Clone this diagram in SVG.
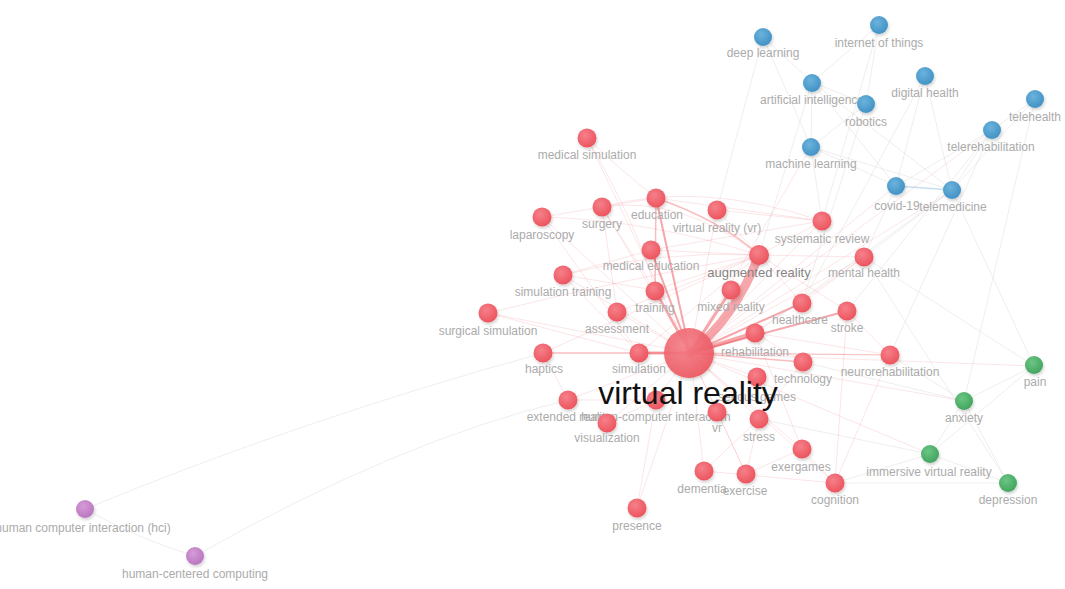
<svg xmlns="http://www.w3.org/2000/svg" width="1065" height="589" viewBox="0 0 1065 589">
<defs>
<radialGradient id="gr" cx="0.4" cy="0.35" r="0.7"><stop offset="0" stop-color="#f5808a"/><stop offset="1" stop-color="#ec525b"/></radialGradient>
<radialGradient id="gb" cx="0.4" cy="0.35" r="0.7"><stop offset="0" stop-color="#6bb3dc"/><stop offset="1" stop-color="#3f90c4"/></radialGradient>
<radialGradient id="gg" cx="0.4" cy="0.35" r="0.7"><stop offset="0" stop-color="#6cc583"/><stop offset="1" stop-color="#3fa35d"/></radialGradient>
<radialGradient id="gp" cx="0.4" cy="0.35" r="0.7"><stop offset="0" stop-color="#d69bd8"/><stop offset="1" stop-color="#b873bd"/></radialGradient>
<filter id="sh" x="-50%" y="-50%" width="200%" height="200%"><feDropShadow dx="1" dy="2" stdDeviation="1.5" flood-color="#000" flood-opacity="0.18"/></filter>
</defs>
<style>
.e{stroke:#f08a90;stroke-opacity:.22;stroke-width:1;fill:none}
.em{stroke:#ee5a62;stroke-opacity:.4;fill:none}
.es{stroke:#ee4f58;stroke-opacity:.5;fill:none;stroke-linecap:round}
.eg{stroke:#cfcfcf;stroke-opacity:.35;stroke-width:1;fill:none}
.eb{stroke:#7fb6d8;stroke-opacity:.45;stroke-width:1.5;fill:none}
.r{fill:url(#gr);filter:url(#sh)}
.b{fill:url(#gb);filter:url(#sh)}
.g{fill:url(#gg);filter:url(#sh)}
.p{fill:url(#gp);filter:url(#sh)}
text{font-family:"Liberation Sans",Arial,sans-serif;text-anchor:middle}
.lb{font-size:12px;fill:#ababab}
.lbd{font-size:13px;fill:#858585}
.big{font-size:32px;fill:#111}
</style>
<rect width="1065" height="589" fill="#fff"/>
<g id="connectors">
<path class="eg" d="M85,509 Q140,540 195,556"/>
<path class="eg" d="M85,509 Q300,420 543,353"/>
<path class="eg" d="M195,556 Q400,440 568,400"/>
<line class="e" x1="690" y1="353" x2="587" y2="138"/>
<line class="e" x1="690" y1="353" x2="602" y2="207"/>
<line class="e" x1="690" y1="353" x2="542" y2="217"/>
<line class="e" x1="690" y1="353" x2="717" y2="210"/>
<line class="e" x1="690" y1="353" x2="822" y2="221"/>
<line class="e" x1="690" y1="353" x2="864" y2="257"/>
<line class="e" x1="690" y1="353" x2="563" y2="275"/>
<line class="e" x1="690" y1="353" x2="488" y2="313"/>
<line class="e" x1="690" y1="353" x2="617" y2="312"/>
<line class="e" x1="690" y1="353" x2="757" y2="377"/>
<line class="e" x1="690" y1="353" x2="568" y2="400"/>
<line class="e" x1="690" y1="353" x2="656" y2="400"/>
<line class="e" x1="690" y1="353" x2="607" y2="423"/>
<line class="e" x1="690" y1="353" x2="717" y2="412"/>
<line class="e" x1="690" y1="353" x2="759" y2="419"/>
<line class="e" x1="690" y1="353" x2="802" y2="449"/>
<line class="e" x1="690" y1="353" x2="704" y2="471"/>
<line class="e" x1="690" y1="353" x2="746" y2="474"/>
<line class="e" x1="690" y1="353" x2="835" y2="483"/>
<line class="e" x1="690" y1="353" x2="637" y2="508"/>
<line class="e" x1="690" y1="353" x2="964" y2="401"/>
<line class="e" x1="690" y1="353" x2="930" y2="454"/>
<line class="e" x1="690" y1="353" x2="1034" y2="366"/>
<line class="e" x1="690" y1="353" x2="896" y2="186"/>
<line class="e" x1="690" y1="353" x2="952" y2="190"/>
<line class="e" x1="690" y1="353" x2="811" y2="147"/>
<line class="e" x1="690" y1="353" x2="992" y2="130"/>
<path class="e" d="M602,207 Q680,195 759,255"/>
<path class="e" d="M542,217 Q650,220 759,255"/>
<path class="e" d="M563,275 Q660,250 759,255"/>
<path class="e" d="M488,313 Q620,280 759,255"/>
<path class="e" d="M587,138 Q640,230 655,290"/>
<path class="e" d="M587,138 Q620,170 656,198"/>
<line class="e" x1="542" y1="217" x2="602" y2="207"/>
<line class="e" x1="602" y1="207" x2="656" y2="198"/>
<line class="e" x1="656" y1="198" x2="822" y2="221"/>
<path class="e" d="M602,207 Q700,180 822,221"/>
<line class="e" x1="563" y1="275" x2="651" y2="250"/>
<line class="e" x1="563" y1="275" x2="655" y2="290"/>
<line class="e" x1="563" y1="275" x2="639" y2="353"/>
<line class="e" x1="488" y1="313" x2="639" y2="353"/>
<line class="e" x1="542" y1="217" x2="639" y2="353"/>
<line class="e" x1="602" y1="207" x2="655" y2="290"/>
<line class="e" x1="602" y1="207" x2="617" y2="312"/>
<line class="e" x1="617" y1="312" x2="759" y2="255"/>
<line class="e" x1="543" y1="353" x2="759" y2="255"/>
<line class="e" x1="639" y1="353" x2="759" y2="255"/>
<line class="e" x1="651" y1="250" x2="759" y2="255"/>
<line class="e" x1="655" y1="290" x2="759" y2="255"/>
<line class="e" x1="717" y1="210" x2="759" y2="255"/>
<line class="e" x1="759" y1="255" x2="864" y2="257"/>
<line class="e" x1="759" y1="255" x2="822" y2="221"/>
<line class="e" x1="759" y1="255" x2="802" y2="303"/>
<line class="e" x1="759" y1="255" x2="847" y2="311"/>
<line class="e" x1="755" y1="333" x2="890" y2="355"/>
<line class="e" x1="755" y1="333" x2="803" y2="362"/>
<line class="e" x1="755" y1="333" x2="864" y2="257"/>
<line class="e" x1="802" y1="303" x2="864" y2="257"/>
<line class="e" x1="847" y1="311" x2="890" y2="355"/>
<line class="e" x1="847" y1="311" x2="835" y2="483"/>
<line class="e" x1="890" y1="355" x2="835" y2="483"/>
<line class="e" x1="802" y1="449" x2="835" y2="483"/>
<line class="e" x1="746" y1="474" x2="802" y2="449"/>
<line class="e" x1="704" y1="471" x2="759" y2="419"/>
<line class="e" x1="746" y1="474" x2="759" y2="419"/>
<line class="e" x1="746" y1="474" x2="717" y2="412"/>
<line class="e" x1="704" y1="471" x2="835" y2="483"/>
<line class="e" x1="656" y1="400" x2="637" y2="508"/>
<line class="e" x1="607" y1="423" x2="656" y2="400"/>
<line class="e" x1="568" y1="400" x2="656" y2="400"/>
<line class="e" x1="543" y1="353" x2="568" y2="400"/>
<line class="e" x1="802" y1="449" x2="755" y2="333"/>
<line class="e" x1="759" y1="419" x2="803" y2="362"/>
<line class="e" x1="717" y1="210" x2="822" y2="221"/>
<line class="e" x1="651" y1="250" x2="822" y2="221"/>
<line class="em" x1="690" y1="353" x2="543" y2="353" stroke-width="1.5"/>
<line class="em" x1="690" y1="353" x2="803" y2="362" stroke-width="1.5"/>
<line class="em" x1="690" y1="353" x2="890" y2="355" stroke-width="1.2"/>
<line class="em" x1="656" y1="198" x2="655" y2="290" stroke-width="1.5"/>
<path class="em" d="M656,198 Q720,220 759,255" stroke-width="1.5"/>
<line class="es" x1="690" y1="353" x2="656" y2="198" stroke-width="2"/>
<line class="es" x1="690" y1="353" x2="651" y2="250" stroke-width="2"/>
<line class="es" x1="690" y1="353" x2="655" y2="290" stroke-width="2.5"/>
<line class="es" x1="690" y1="353" x2="802" y2="303" stroke-width="2"/>
<line class="es" x1="690" y1="353" x2="847" y2="311" stroke-width="2"/>
<line class="es" x1="690" y1="353" x2="639" y2="353" stroke-width="3"/>
<line class="es" x1="690" y1="353" x2="731" y2="290" stroke-width="3"/>
<line class="es" x1="690" y1="353" x2="755" y2="333" stroke-width="4"/>
<path class="es" d="M690,353 Q735,318 759,255" stroke-width="9" stroke-opacity=".42"/>
<line class="eg" x1="763" y1="37" x2="812" y2="82"/>
<line class="eg" x1="879" y1="25" x2="812" y2="82"/>
<line class="eg" x1="812" y1="82" x2="866" y2="104"/>
<line class="eg" x1="812" y1="82" x2="811" y2="147"/>
<line class="eg" x1="812" y1="82" x2="896" y2="186"/>
<line class="eg" x1="812" y1="82" x2="952" y2="190"/>
<line class="eg" x1="763" y1="37" x2="811" y2="147"/>
<line class="eg" x1="866" y1="104" x2="811" y2="147"/>
<line class="eg" x1="811" y1="147" x2="896" y2="186"/>
<line class="eg" x1="811" y1="147" x2="952" y2="190"/>
<line class="eg" x1="925" y1="76" x2="952" y2="190"/>
<line class="eg" x1="925" y1="76" x2="896" y2="186"/>
<line class="eg" x1="879" y1="25" x2="866" y2="104"/>
<line class="eg" x1="1035" y1="99" x2="952" y2="190"/>
<line class="eg" x1="1035" y1="99" x2="992" y2="130"/>
<line class="eg" x1="992" y1="130" x2="952" y2="190"/>
<line class="eg" x1="992" y1="130" x2="896" y2="186"/>
<line class="eb" x1="896" y1="186" x2="952" y2="190"/>
<line class="eg" x1="763" y1="37" x2="717" y2="210"/>
<line class="eg" x1="812" y1="82" x2="759" y2="255"/>
<line class="eg" x1="866" y1="104" x2="802" y2="303"/>
<line class="eg" x1="925" y1="76" x2="802" y2="303"/>
<line class="eg" x1="896" y1="186" x2="864" y2="257"/>
<line class="eg" x1="952" y1="190" x2="864" y2="257"/>
<line class="eg" x1="952" y1="190" x2="755" y2="333"/>
<line class="eg" x1="992" y1="130" x2="847" y2="311"/>
<line class="eg" x1="992" y1="130" x2="890" y2="355"/>
<line class="eg" x1="952" y1="190" x2="1034" y2="366"/>
<line class="eg" x1="1035" y1="99" x2="964" y2="401"/>
<line class="eg" x1="811" y1="147" x2="822" y2="221"/>
<line class="eg" x1="879" y1="25" x2="822" y2="221"/>
<line class="eg" x1="964" y1="401" x2="1034" y2="366"/>
<line class="eg" x1="964" y1="401" x2="1008" y2="483"/>
<line class="eg" x1="964" y1="401" x2="930" y2="454"/>
<line class="eg" x1="930" y1="454" x2="1008" y2="483"/>
<line class="eg" x1="930" y1="454" x2="1034" y2="366"/>
<line class="eg" x1="964" y1="401" x2="890" y2="355"/>
<line class="eg" x1="1034" y1="366" x2="864" y2="257"/>
<line class="eg" x1="1008" y1="483" x2="864" y2="257"/>
<line class="eg" x1="930" y1="454" x2="835" y2="483"/>
<line class="eg" x1="930" y1="454" x2="759" y2="419"/>
<line class="eg" x1="964" y1="401" x2="803" y2="362"/>
<line class="eg" x1="1008" y1="483" x2="835" y2="483"/>
</g>
<g id="n-medical-simulation"><circle class="r" cx="587" cy="138" r="9.5"/><text class="lb" x="587" y="159">medical simulation</text></g>
<g id="n-surgery"><circle class="r" cx="602" cy="207" r="9.5"/><text class="lb" x="602" y="228">surgery</text></g>
<g id="n-education"><circle class="r" cx="656" cy="198" r="9.5"/><text class="lb" x="657" y="219">education</text></g>
<g id="n-laparoscopy"><circle class="r" cx="542" cy="217" r="9.5"/><text class="lb" x="542" y="239">laparoscopy</text></g>
<g id="n-virtual-reality-vr"><circle class="r" cx="717" cy="210" r="9.5"/><text class="lb" x="717" y="232">virtual reality (vr)</text></g>
<g id="n-systematic-review"><circle class="r" cx="822" cy="221" r="9.5"/><text class="lb" x="822" y="243">systematic review</text></g>
<g id="n-medical-education"><circle class="r" cx="651" cy="250" r="9.5"/><text class="lb" x="651" y="270">medical education</text></g>
<g id="n-mental-health"><circle class="r" cx="864" cy="257" r="9.5"/><text class="lb" x="864" y="277">mental health</text></g>
<g id="n-simulation-training"><circle class="r" cx="563" cy="275" r="9.5"/><text class="lb" x="563" y="296">simulation training</text></g>
<g id="n-training"><circle class="r" cx="655" cy="291" r="9.5"/><text class="lb" x="655" y="312">training</text></g>
<g id="n-mixed-reality"><circle class="r" cx="731" cy="290" r="9.5"/><text class="lb" x="731" y="311">mixed reality</text></g>
<g id="n-healthcare"><circle class="r" cx="802" cy="303" r="9.5"/><text class="lb" x="800" y="324">healthcare</text></g>
<g id="n-stroke"><circle class="r" cx="847" cy="311" r="9.5"/><text class="lb" x="847" y="332">stroke</text></g>
<g id="n-surgical-simulation"><circle class="r" cx="488" cy="313" r="9.5"/><text class="lb" x="488" y="335">surgical simulation</text></g>
<g id="n-assessment"><circle class="r" cx="617" cy="312" r="9.5"/><text class="lb" x="617" y="333">assessment</text></g>
<g id="n-haptics"><circle class="r" cx="543" cy="353" r="9.5"/><text class="lb" x="544" y="373">haptics</text></g>
<g id="n-simulation"><circle class="r" cx="639" cy="353" r="9.5"/><text class="lb" x="639" y="373">simulation</text></g>
<g id="n-rehabilitation"><circle class="r" cx="755" cy="333" r="9.5"/><text class="lb" x="755" y="356">rehabilitation</text></g>
<g id="n-technology"><circle class="r" cx="803" cy="362" r="9.5"/><text class="lb" x="803" y="383">technology</text></g>
<g id="n-neurorehabilitation"><circle class="r" cx="890" cy="355" r="9.5"/><text class="lb" x="890" y="376">neurorehabilitation</text></g>
<g id="n-serious-games"><circle class="r" cx="757" cy="377" r="9.5"/><text class="lb" x="757" y="401">serious games</text></g>
<g id="n-extended-reality"><circle class="r" cx="568" cy="400" r="9.5"/><text class="lb" x="569" y="421">extended reality</text></g>
<g id="n-human-computer-interaction"><circle class="r" cx="656" cy="400" r="9.5"/><text class="lb" x="656" y="421">human-computer interaction</text></g>
<g id="n-visualization"><circle class="r" cx="607" cy="423" r="9.5"/><text class="lb" x="607" y="442">visualization</text></g>
<g id="n-vr"><circle class="r" cx="717" cy="412" r="9.5"/><text class="lb" x="717" y="432">vr</text></g>
<g id="n-stress"><circle class="r" cx="759" cy="419" r="9.5"/><text class="lb" x="759" y="441">stress</text></g>
<g id="n-exergames"><circle class="r" cx="802" cy="449" r="9.5"/><text class="lb" x="801" y="471">exergames</text></g>
<g id="n-dementia"><circle class="r" cx="704" cy="471" r="9.5"/><text class="lb" x="702" y="493">dementia</text></g>
<g id="n-exercise"><circle class="r" cx="746" cy="474" r="9.5"/><text class="lb" x="745" y="495">exercise</text></g>
<g id="n-cognition"><circle class="r" cx="835" cy="483" r="9.5"/><text class="lb" x="835" y="504">cognition</text></g>
<g id="n-presence"><circle class="r" cx="637" cy="508" r="9.5"/><text class="lb" x="637" y="530">presence</text></g>
<g id="n-augmented-reality"><circle class="r" cx="759" cy="255" r="10"/><text class="lbd" x="759" y="277">augmented reality</text></g>
<g id="n-virtual-reality"><circle class="r" cx="689" cy="353" r="25" fill-opacity=".9"/><text class="big" x="688" y="404">virtual reality</text></g>
<g id="n-deep-learning"><circle class="b" cx="763" cy="37" r="9"/><text class="lb" x="763" y="57">deep learning</text></g>
<g id="n-internet-of-things"><circle class="b" cx="879" cy="25" r="9"/><text class="lb" x="879" y="47">internet of things</text></g>
<g id="n-artificial-intelligence"><circle class="b" cx="812" cy="83" r="9"/><text class="lb" x="812" y="104">artificial intelligence</text></g>
<g id="n-digital-health"><circle class="b" cx="925" cy="76" r="9"/><text class="lb" x="925" y="97">digital health</text></g>
<g id="n-robotics"><circle class="b" cx="866" cy="104" r="9"/><text class="lb" x="866" y="126">robotics</text></g>
<g id="n-telehealth"><circle class="b" cx="1035" cy="99" r="9"/><text class="lb" x="1035" y="121">telehealth</text></g>
<g id="n-telerehabilitation"><circle class="b" cx="992" cy="130" r="9"/><text class="lb" x="991" y="151">telerehabilitation</text></g>
<g id="n-machine-learning"><circle class="b" cx="811" cy="147" r="9"/><text class="lb" x="811" y="168">machine learning</text></g>
<g id="n-covid-19"><circle class="b" cx="896" cy="186" r="9"/><text class="lb" x="897" y="210">covid-19</text></g>
<g id="n-telemedicine"><circle class="b" cx="952" cy="190" r="9"/><text class="lb" x="953" y="211">telemedicine</text></g>
<g id="n-pain"><circle class="g" cx="1034" cy="365" r="9"/><text class="lb" x="1035" y="386">pain</text></g>
<g id="n-anxiety"><circle class="g" cx="964" cy="401" r="9"/><text class="lb" x="964" y="422">anxiety</text></g>
<g id="n-immersive-virtual-reality"><circle class="g" cx="930" cy="454" r="9"/><text class="lb" x="929" y="476">immersive virtual reality</text></g>
<g id="n-depression"><circle class="g" cx="1008" cy="483" r="9"/><text class="lb" x="1008" y="504">depression</text></g>
<g id="n-human-computer-interaction-hci"><circle class="p" cx="85" cy="509" r="9"/><text class="lb" x="83" y="532">human computer interaction (hci)</text></g>
<g id="n-human-centered-computing"><circle class="p" cx="195" cy="556" r="9"/><text class="lb" x="195" y="578">human-centered computing</text></g>
</svg>
